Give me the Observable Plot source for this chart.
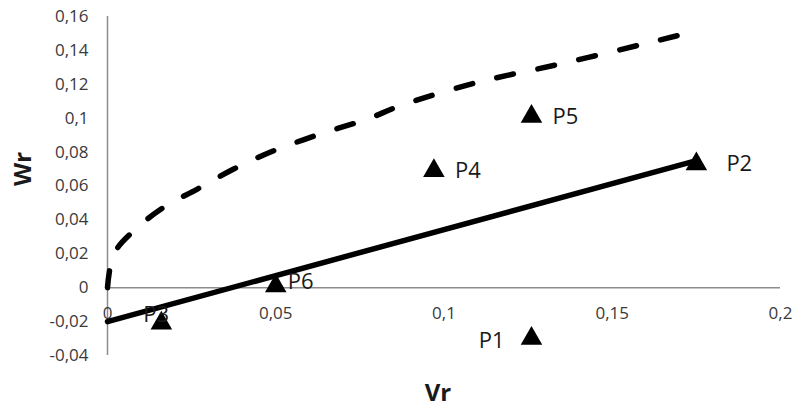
<!DOCTYPE html>
<html>
<head>
<meta charset="utf-8">
<script src="https://cdn.jsdelivr.net/npm/d3@7"></script>
<script src="https://cdn.jsdelivr.net/npm/@observablehq/plot@0.6"></script>
<style>
  html, body { margin: 0; padding: 0; background: #fff; }
  svg { display: block; }
</style>
</head>
<body>
<div id="chart"></div>
<script>
// Points
const pointNames = ["P1", "P2", "P3", "P4", "P5", "P6"];
const pointVr = [0.126, 0.175, 0.016, 0.097, 0.126, 0.05];
const pointWr = [-0.030, 0.073, -0.021, 0.069, 0.101, 0.001];

// Solid line (straight)
const solidVr = [0, 0.175];
const solidWr = [-0.02, 0.075];

// Dashed curve
const dashVr = [0, 0.0019, 0.0078, 0.0167, 0.0267, 0.0375, 0.0494, 0.0633, 0.0772, 0.0871, 0.1099, 0.1346, 0.1594, 0.1752];
const dashWr = [0, 0.0199, 0.0336, 0.0474, 0.0582, 0.070, 0.0808, 0.0907, 0.0995, 0.1074, 0.1211, 0.132, 0.1438, 0.1516];

// Ticks
const xTicks = [0, 0.05, 0.1, 0.15, 0.2];
const yTicks = [-0.04, -0.02, 0, 0.02, 0.04, 0.06, 0.08, 0.1, 0.12, 0.14, 0.16];

const fmt = d => d === 0 ? "0" : String(d).replace(".", ",");

const points = pointNames.map((n, i) => ({name: n, vr: pointVr[i], wr: pointWr[i]}));
const solid = solidVr.map((v, i) => ({vr: v, wr: solidWr[i]}));
const dashed = dashVr.map((v, i) => ({vr: v, wr: dashWr[i]}));

const font = "'Open Sans', sans-serif";
const inGroup = names => d => names.includes(d.name);

const chart = Plot.plot({
  width: 796,
  height: 418,
  marginLeft: 107,
  marginRight: 16,
  marginTop: 16,
  marginBottom: 63,
  style: {fontFamily: font, background: "#fff"},
  x: {domain: [0, 0.2], axis: null},
  y: {domain: [-0.04, 0.16]},
  marks: [
    Plot.ruleX([0], {y1: -0.04, y2: 0.16, stroke: "#8c8c8c", strokeWidth: 1.5}),
    Plot.ruleY([0], {x1: 0, x2: 0.2, stroke: "#8c8c8c", strokeWidth: 1.5}),
    Plot.axisY(yTicks, {tickSize: 0, tickPadding: 19, tickFormat: fmt, fontSize: 17, fill: "#3a3a3a", label: null}),
    Plot.text(xTicks, {x: d => d, y: 0, dy: 26, text: fmt, fontSize: 17, fill: "#3a3a3a"}),
    Plot.line(dashed, {x: "vr", y: "wr", stroke: "#000", strokeWidth: 5.5, strokeDasharray: "17,25", strokeLinecap: "round", curve: "catmull-rom"}),
    Plot.line(solid, {x: "vr", y: "wr", stroke: "#000", strokeWidth: 5.5}),
    Plot.dot(points, {x: "vr", y: "wr", symbol: "triangle", r: 8, fill: "#000", stroke: "none"}),
    Plot.text(points, {filter: inGroup(["P4", "P5"]), x: "vr", y: "wr", text: "name", textAnchor: "start", dx: 21, fontSize: 22, fill: "#1a1a1a"}),
    Plot.text(points, {filter: inGroup(["P2"]), x: "vr", y: "wr", text: "name", textAnchor: "start", dx: 30, fontSize: 22, fill: "#1a1a1a"}),
    Plot.text(points, {filter: inGroup(["P6"]), x: "vr", y: "wr", text: "name", textAnchor: "start", dx: 12, dy: -4, fontSize: 22, fill: "#1a1a1a"}),
    Plot.text(points, {filter: inGroup(["P3"]), x: "vr", y: "wr", text: "name", textAnchor: "start", dx: -18, dy: -8, fontSize: 22, fill: "#1a1a1a"}),
    Plot.text(points, {filter: inGroup(["P1"]), x: "vr", y: "wr", text: "name", textAnchor: "end", dx: -27, dy: 2, fontSize: 22, fill: "#1a1a1a"}),
    Plot.text(["Vr"], {frameAnchor: "bottom", dy: 45, dx: -6, text: d => d, fontSize: 24, fontWeight: "bold", fill: "#1a1a1a"}),
    Plot.text(["Wr"], {frameAnchor: "left", dx: -84, text: d => d, rotate: -90, fontSize: 24, fontWeight: "bold", fill: "#1a1a1a"})
  ]
});
document.getElementById("chart").appendChild(chart);
</script>
</body>
</html>
